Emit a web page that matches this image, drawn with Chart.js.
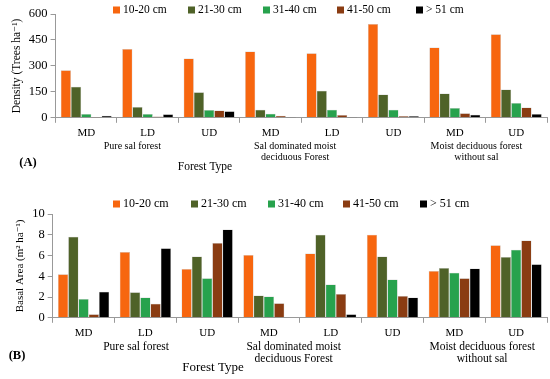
<!DOCTYPE html>
<html>
<head>
<meta charset="utf-8">
<script src="https://cdn.jsdelivr.net/npm/chart.js@4"></script>
<style>
  html,body{margin:0;padding:0;background:#fff;}
  .panel{position:absolute;left:0;width:550px;}
  #pa{top:0;height:190px;}
  #pb{top:190px;height:189px;}
</style>
</head>
<body>
<div class="panel" id="pa"><canvas id="chartA" width="550" height="190"></canvas></div>
<div class="panel" id="pb"><canvas id="chartB" width="550" height="189"></canvas></div>
<script>
const categories = ['MD','LD','UD','MD','LD','UD','MD','UD'];
const sizeClasses = ['10-20 cm','21-30 cm','31-40 cm','41-50 cm','> 51 cm'];
const forestGroups = [['Pure sal forest'],['Sal dominated moist','deciduous Forest'],['Moist deciduous forest','without sal']];

// density (trees/ha)
const density10_20 = [275,397,343,383,373,542,406,483];
const density21_30 = [180,62,148,47,157,134,140,163];
const density31_40 = [22,22,45,23,47,47,56,86];
const density41_50 = [5,8,42,12,16,10,27,60];
const density51 = [12,20,38,2,2,10,18,22];

// basal area (m2/ha)
const basal10_20 = [4.2,6.35,4.7,6.05,6.2,8.0,4.5,7.0];
const basal21_30 = [7.8,2.45,5.9,2.15,8.0,5.9,4.8,5.85];
const basal31_40 = [1.8,1.95,3.8,2.05,3.2,3.7,4.35,6.55];
const basal41_50 = [0.35,1.35,7.2,1.4,2.3,2.1,3.8,7.45];
const basal51 = [2.5,6.7,8.5,0,0.35,1.95,4.75,5.15];

const colors = ['#f7660f','#4f6228','#27a24d','#8a3c12','#000000'];
const serif = "'Liberation Serif', 'DejaVu Serif', serif";

function makeSets(arrs){
  return arrs.map((d,i)=>({label:sizeClasses[i],data:d,backgroundColor:colors[i],
    borderColor:'rgba(0,0,0,0.25)',borderWidth:0.5,categoryPercentage:0.83,barPercentage:1}));
}

// legend + group labels drawn by hand
function extrasPlugin(cfg){
  return {
    id:'extras',
    afterDraw(chart){
      const ctx = chart.ctx, x = chart.scales.x, bot = chart.chartArea.bottom;
      ctx.save();
      // legend
      ctx.font = cfg.legendSize+'px '+serif;
      ctx.textBaseline = 'middle';
      chart.data.datasets.forEach((ds,i)=>{
        const lx = cfg.legendX[i];
        ctx.fillStyle = ds.backgroundColor;
        ctx.fillRect(lx, cfg.legendY-3.5, 7, 7);
        ctx.fillStyle = '#000';
        ctx.textAlign = 'left';
        ctx.fillText(ds.label, lx+10, cfg.legendY);
      });
      // forest group labels
      ctx.font = cfg.groupSize+'px '+serif;
      ctx.textAlign = 'center';
      forestGroups.forEach((lines,g)=>{
        const gx = x.getPixelForValue(cfg.groupPos[g]);
        lines.forEach((t,k)=>ctx.fillText(t, gx, bot+cfg.groupDy+k*cfg.lineH));
      });
      // axis title and panel tag
      ctx.font = cfg.titleSize+'px '+serif;
      ctx.fillText('Forest Type', cfg.titleX, bot+cfg.titleDy);
      ctx.font = 'bold 12.5px '+serif;
      ctx.fillText(cfg.tag, cfg.tagX, bot+cfg.tagDy);
      ctx.restore();
    }
  };
}

function buildChart(id, sets, yMax, yStep, yTitle, pad, cfg){
  return new Chart(document.getElementById(id),{
    type:'bar',
    data:{labels:categories,datasets:makeSets(sets)},
    options:{
      responsive:false,animation:false,
      layout:{padding:pad},
      plugins:{legend:{display:false},tooltip:{enabled:false}},
      scales:{
        x:{
          grid:{drawOnChartArea:false,offset:true,color:'#999',tickLength:5},
          border:{color:'#999'},
          ticks:{color:'#000',font:{family:serif,size:11},padding:4,maxRotation:0}
        },
        y:{
          min:0,max:yMax,
          grid:{drawOnChartArea:false,color:'#999',tickLength:5},
          border:{color:'#999'},
          ticks:{stepSize:yStep,color:'#000',font:{family:serif,size:12.5},padding:3},
          title:{display:true,text:yTitle,color:'#000',font:{family:serif,size:cfg.ySize},padding:{top:0,bottom:2}}
        }
      }
    },
    plugins:[extrasPlugin(cfg)]
  });
}

buildChart('chartA',[density10_20,density21_30,density31_40,density41_50,density51],600,150,
  'Density (Trees ha\u207B\u00B9)',{top:14,bottom:46,left:10,right:3},
  {legendX:[113,188,263,337,416],legendY:10,legendSize:11.5,groupPos:[0.75,3.4,6.35],groupDy:29,lineH:11,
   groupSize:10,titleX:205,titleDy:49,titleSize:11.5,tag:'(A)',tagX:28,tagDy:45,ySize:11.5});

buildChart('chartB',[basal10_20,basal21_30,basal31_40,basal41_50,basal51],10,2,
  'Basal Area (m\u00B2 ha\u207B\u00B9)',{top:24,bottom:35,left:14,right:3},
  {legendX:[113,191,268,343,420],legendY:14,legendSize:12,groupPos:[0.85,3.4,6.45],groupDy:29,lineH:12,
   groupSize:11.5,titleX:213,titleDy:50,titleSize:13,tag:'(B)',tagX:17,tagDy:38,ySize:11});
</script>
</body>
</html>
